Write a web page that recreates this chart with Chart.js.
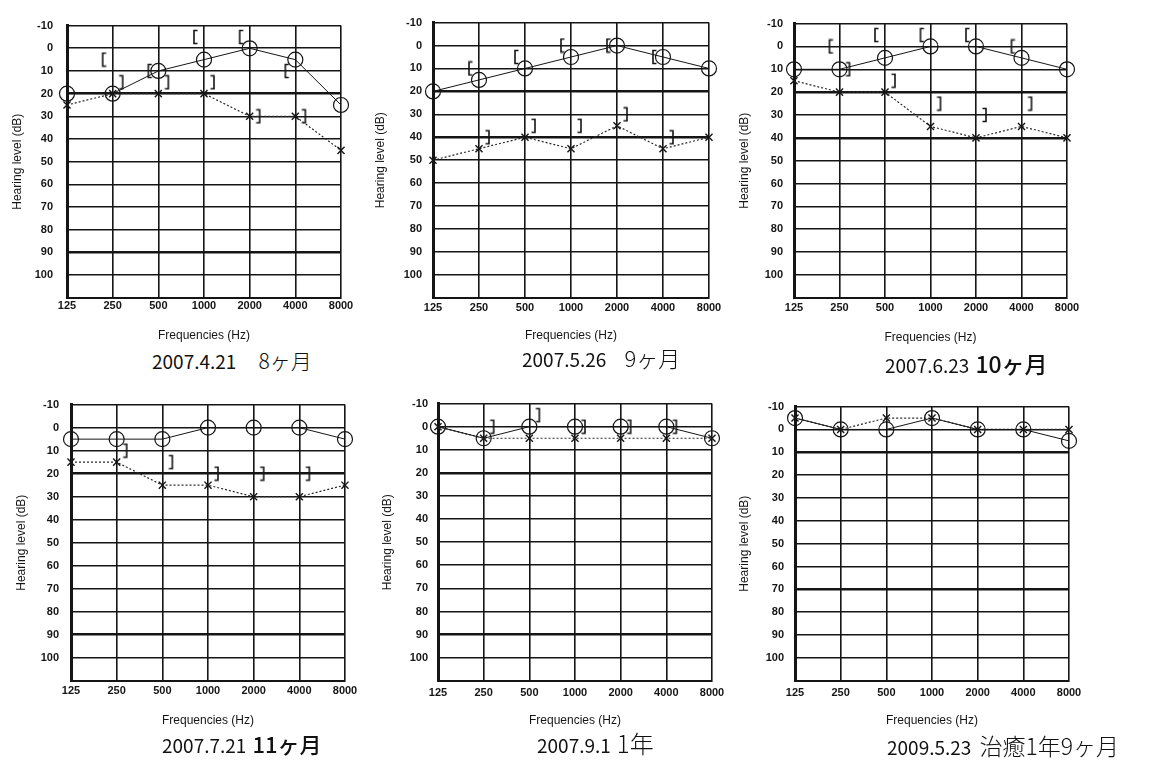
<!DOCTYPE html>
<html>
<head>
<meta charset="utf-8">
<script src="https://cdn.jsdelivr.net/npm/chart.js@4.4.0/dist/chart.umd.min.js"></script>
<style>
  html, body { margin: 0; padding: 0; background: #fff; }
  body { width: 1153px; height: 762px; position: relative; overflow: hidden; }
  canvas.audiogram { position: absolute; }
  .caption {
    position: absolute; white-space: nowrap; color: #111;
    font-family: "Noto Sans CJK JP", "Noto Sans", sans-serif;
    height: 30px; line-height: 30px;
  }
  .caption .date { font-size: 19px; font-weight: 400; }
</style>
</head>
<body>
<script>
// Test frequencies (Hz) and hearing-level grid (dB)
const FREQUENCIES = [125, 250, 500, 1000, 2000, 4000, 8000];
const LEVEL_TICKS = [-10, 0, 10, 20, 30, 40, 50, 60, 70, 80, 90, 100, 110];

// Test dates and elapsed time
const TEST_DATES = ['2007.4.21', '2007.5.26', '2007.6.23', '2007.7.21', '2007.9.1', '2009.5.23'];
const TEST_AGES  = ['8ヶ月', '9ヶ月', '10ヶ月', '11ヶ月', '1年', '治癒1年9ヶ月'];

// 2007.4.21
const RIGHT_AIR_1  = [20, 20, 10, 5, 0, 5, 25];
const LEFT_AIR_1   = [25, 20, 20, 20, 30, 30, 45];
const RIGHT_BONE_1 = [null, 5, 10, -5, -5, 10, null];
const LEFT_BONE_1  = [null, 15, 15, 15, 30, 30, null];

// 2007.5.26
const RIGHT_AIR_2  = [20, 15, 10, 5, 0, 5, 10];
const LEFT_AIR_2   = [50, 45, 40, 45, 35, 45, 40];
const RIGHT_BONE_2 = [null, 10, 5, 0, 0, 5, null];
const LEFT_BONE_2  = [null, 40, 35, 35, 30, 40, null];

// 2007.6.23
const RIGHT_AIR_3  = [10, 10, 5, 0, 0, 5, 10];
const LEFT_AIR_3   = [15, 20, 20, 35, 40, 35, 40];
const RIGHT_BONE_3 = [null, 0, -5, -5, -5, 0, null];
const LEFT_BONE_3  = [null, 10, 15, 25, 30, 25, null];

// 2007.7.21
const RIGHT_AIR_4  = [5, 5, 5, 0, 0, 0, 5];
const LEFT_AIR_4   = [15, 15, 25, 25, 30, 30, 25];
const RIGHT_BONE_4 = [null, null, null, null, null, null, null];
const LEFT_BONE_4  = [null, 10, 15, 20, 20, 20, null];

// 2007.9.1
const RIGHT_AIR_5  = [0, 5, 0, 0, 0, 0, 5];
const LEFT_AIR_5   = [0, 5, 5, 5, 5, 5, 5];
const RIGHT_BONE_5 = [null, null, null, null, null, null, null];
const LEFT_BONE_5  = [null, 0, -5, 0, 0, 0, null];

// 2009.5.23
const RIGHT_AIR_6  = [-5, 0, 0, -5, 0, 0, 5];
const LEFT_AIR_6   = [-5, 0, -5, -5, 0, 0, 0];
const RIGHT_BONE_6 = [null, null, null, null, null, null, null];
const LEFT_BONE_6  = [null, null, null, null, null, null, null];

const SERIES = [
  [RIGHT_AIR_1, LEFT_AIR_1, RIGHT_BONE_1, LEFT_BONE_1],
  [RIGHT_AIR_2, LEFT_AIR_2, RIGHT_BONE_2, LEFT_BONE_2],
  [RIGHT_AIR_3, LEFT_AIR_3, RIGHT_BONE_3, LEFT_BONE_3],
  [RIGHT_AIR_4, LEFT_AIR_4, RIGHT_BONE_4, LEFT_BONE_4],
  [RIGHT_AIR_5, LEFT_AIR_5, RIGHT_BONE_5, LEFT_BONE_5],
  [RIGHT_AIR_6, LEFT_AIR_6, RIGHT_BONE_6, LEFT_BONE_6]
];

// Page placement of each audiogram: plot box, axis titles, tick gaps, caption
const PLACEMENT = [
  { L: 67,  R: 341,  T: 17,  B: 297, yTitle: 17,  tickGap: 14, xTick: 305, xTitle: 335, capX: 152, capY: 360, ageSize: 21, ageWeight: 300, gap: 22, heavy: [20, 90] },
  { L: 433, R: 709,  T: 17,  B: 297, yTitle: 380, tickGap: 11, xTick: 307, xTitle: 335, capX: 522, capY: 357, ageSize: 22, ageWeight: 300, gap: 18, heavy: [20, 40] },
  { L: 794, R: 1067, T: 18,  B: 297, yTitle: 744, tickGap: 11, xTick: 307, xTitle: 337, capX: 885, capY: 363, ageSize: 23, ageWeight: 500, gap: 6,  heavy: [20, 40] },
  { L: 71,  R: 345,  T: 398, B: 680, yTitle: 21,  tickGap: 12, xTick: 690, xTitle: 720, capX: 162, capY: 743, ageSize: 22, ageWeight: 500, gap: 6,  heavy: [20, 90] },
  { L: 438, R: 712,  T: 399, B: 680, yTitle: 387, tickGap: 10, xTick: 692, xTitle: 720, capX: 537, capY: 743, ageSize: 24, ageWeight: 300, gap: 6,  heavy: [20, 90] },
  { L: 795, R: 1069, T: 401, B: 680, yTitle: 744, tickGap: 11, xTick: 692, xTitle: 720, capX: 887, capY: 745, ageSize: 23, ageWeight: 300, gap: 8,  heavy: [10, 70] }
];

const INK = '#151515';
const TITLE_FONT = { family: 'Liberation Sans', size: 12, lineHeight: 1.2 };
const TICK_FONT = { family: 'Liberation Sans', size: 11, weight: 'bold', lineHeight: 1.2 };

// Bone-conduction symbols "[" (right ear) and "]" (left ear), set beside the frequency line
function bracketGlyph(side) {
  const c = document.createElement('canvas');
  c.width = 26; c.height = 16;
  const g = c.getContext('2d');
  g.strokeStyle = INK; g.lineWidth = 1.6;
  const x = side === 'left' ? 3 : 23;
  const arm = side === 'left' ? 3.5 : -3.5;
  g.beginPath();
  g.moveTo(x + arm, 1.5); g.lineTo(x, 1.5); g.lineTo(x, 14.5); g.lineTo(x + arm, 14.5);
  g.stroke();
  return c;
}
const OPEN_BRACKET = bracketGlyph('left');
const CLOSE_BRACKET = bracketGlyph('right');

function points(values) {
  return FREQUENCIES.map((f, i) => ({ x: f, y: values[i] })).filter(p => p.y !== null);
}

function drawAudiogram(idx) {
  const p = PLACEMENT[idx];
  const [rightAir, leftAir, rightBone, leftBone] = SERIES[idx];
  const titleHalf = TITLE_FONT.size * TITLE_FONT.lineHeight / 2;
  const tickHalf = TICK_FONT.size * TICK_FONT.lineHeight / 2;
  const padTop = 12, padRight = 22;

  const left = Math.round(p.yTitle - titleHalf);
  const top = p.T - padTop;
  const xAxisH = p.xTitle + titleHalf - p.B;
  const width = p.R + padRight - left;
  const height = Math.ceil(p.B + xAxisH - top);

  const canvas = document.createElement('canvas');
  canvas.className = 'audiogram';
  canvas.width = width; canvas.height = height;
  canvas.style.left = left + 'px'; canvas.style.top = top + 'px';
  canvas.style.width = width + 'px'; canvas.style.height = height + 'px';
  document.body.appendChild(canvas);

  new Chart(canvas, {
    type: 'line',
    data: {
      datasets: [
        { label: '右 気導', data: points(rightAir), borderColor: INK, borderWidth: 1,
          pointStyle: 'circle', pointRadius: 7.5, pointBorderWidth: 1.2,
          pointBorderColor: INK, pointBackgroundColor: 'rgba(0,0,0,0)' },
        { label: '左 気導', data: points(leftAir), borderColor: '#2a2a2a', borderWidth: 1.2,
          borderDash: [2, 2], pointStyle: 'crossRot', pointRadius: 5, pointBorderWidth: 1.4,
          pointBorderColor: INK, pointBackgroundColor: 'rgba(0,0,0,0)' },
        { label: '右 骨導', data: points(rightBone), showLine: false, pointStyle: OPEN_BRACKET },
        { label: '左 骨導', data: points(leftBone), showLine: false, pointStyle: CLOSE_BRACKET }
      ]
    },
    options: {
      responsive: false,
      animation: false,
      devicePixelRatio: 1,
      events: [],
      clip: false,
      layout: { padding: { top: padTop, right: padRight, left: 0, bottom: 0 } },
      plugins: { legend: { display: false }, tooltip: { enabled: false } },
      elements: { line: { tension: 0, fill: false } },
      scales: {
        x: {
          type: 'logarithmic', min: 125, max: 8000,
          afterBuildTicks: s => { s.ticks = FREQUENCIES.map(v => ({ value: v })); },
          afterFit: s => { s.height = xAxisH; },
          ticks: { autoSkip: false, maxRotation: 0, minRotation: 0,
                   padding: p.xTick - p.B - tickHalf, font: TICK_FONT, color: INK,
                   callback: v => String(v) },
          grid: { color: INK, lineWidth: 1.6, drawTicks: false },
          border: { color: INK, width: 2 },
          title: { display: true, text: 'Frequencies (Hz)', font: TITLE_FONT, color: INK, padding: 0 }
        },
        y: {
          type: 'linear', reverse: true, min: -10, max: 110,
          afterBuildTicks: s => { s.ticks = LEVEL_TICKS.map(v => ({ value: v })); },
          afterFit: s => { s.width = p.L - left; },
          ticks: { autoSkip: false, padding: p.tickGap, font: TICK_FONT, color: INK,
                   callback: v => (v > 100 ? '' : String(v)) },
          grid: { color: INK, drawTicks: false,
                  lineWidth: c => (c.tick && p.heavy.includes(c.tick.value) ? 2.6 : 1.6) },
          border: { color: INK, width: 3 },
          title: { display: true, text: 'Hearing level (dB)', font: TITLE_FONT, color: INK, padding: 0 }
        }
      }
    }
  });

  const cap = document.createElement('div');
  cap.className = 'caption';
  cap.style.left = p.capX + 'px';
  cap.style.top = (p.capY - 15) + 'px';
  const d = document.createElement('span');
  d.className = 'date'; d.textContent = TEST_DATES[idx];
  const a = document.createElement('span');
  a.textContent = TEST_AGES[idx];
  a.style.fontSize = p.ageSize + 'px';
  a.style.fontWeight = p.ageWeight;
  a.style.marginLeft = p.gap + 'px';
  cap.appendChild(d); cap.appendChild(a);
  document.body.appendChild(cap);
}

for (let i = 0; i < PLACEMENT.length; i++) drawAudiogram(i);
</script>
</body>
</html>
